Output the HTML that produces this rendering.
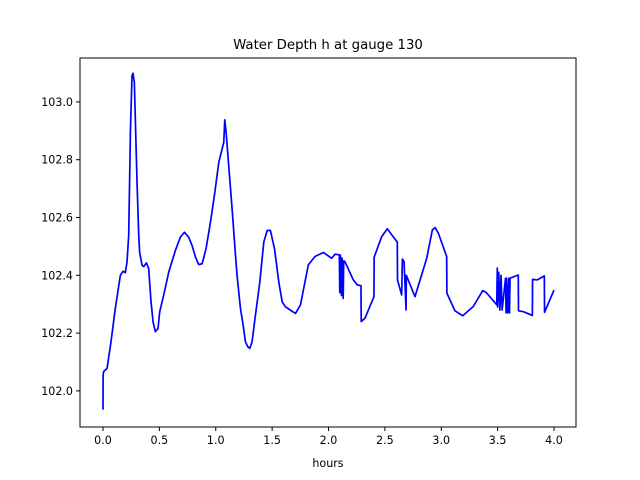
<!DOCTYPE html>
<html><head><meta charset="utf-8"><style>
body{margin:0;background:#fff}
svg{display:block;font-family:"DejaVu Sans","Liberation Sans",sans-serif}
</style></head><body>
<svg id="chart" width="640" height="480" viewBox="0 0 640 480">
<rect width="640" height="480" fill="#fff"/>
<text x="328" y="49" text-anchor="middle" font-size="13.3">Water Depth h at gauge 130</text>
<g id="xticks"></g>
<g id="yticks"></g>
<path id="line" fill="none" stroke="#0000ff" stroke-width="1.7" stroke-linejoin="round"/>
<rect x="80" y="58" width="496" height="369" fill="none" stroke="#000" stroke-width="1"/>
<text x="328" y="467" text-anchor="middle" font-size="11.1">hours</text>
</svg>
<script>
const hours=[0,0.001,0.006,0.036,0.071,0.109,0.154,0.178,0.198,0.213,0.228,0.243,0.257,0.266,0.278,0.29,0.302,0.317,0.325,0.346,0.361,0.385,0.405,0.426,0.444,0.464,0.488,0.503,0.538,0.583,0.642,0.686,0.722,0.76,0.79,0.82,0.849,0.879,0.914,0.953,0.988,1.027,1.056,1.071,1.08,1.092,1.115,1.145,1.175,1.189,1.219,1.243,1.263,1.284,1.302,1.322,1.352,1.391,1.426,1.456,1.485,1.521,1.559,1.589,1.618,1.663,1.707,1.751,1.821,1.88,1.954,2.028,2.058,2.096,2.1,2.105,2.115,2.12,2.13,2.135,2.146,2.22,2.255,2.288,2.29,2.324,2.403,2.405,2.472,2.522,2.561,2.61,2.612,2.649,2.655,2.67,2.688,2.69,2.767,2.871,2.921,2.945,2.974,3.048,3.05,3.122,3.19,3.284,3.368,3.4,3.492,3.497,3.5,3.51,3.52,3.53,3.54,3.57,3.575,3.58,3.59,3.6,3.605,3.61,3.683,3.685,3.728,3.808,3.81,3.852,3.914,3.916,4.0];
const depth=[101.935,102.055,102.067,102.078,102.17,102.285,102.4,102.414,102.409,102.446,102.538,102.894,103.09,103.099,103.067,102.894,102.72,102.538,102.48,102.435,102.43,102.443,102.423,102.308,102.239,102.205,102.216,102.274,102.331,102.411,102.486,102.532,102.549,102.532,102.503,102.463,102.437,102.44,102.492,102.584,102.676,102.791,102.837,102.86,102.938,102.894,102.779,102.63,102.469,102.4,102.285,102.228,102.17,102.153,102.147,102.17,102.262,102.377,102.515,102.555,102.555,102.492,102.377,102.308,102.291,102.279,102.268,102.297,102.436,102.465,102.479,102.459,102.473,102.471,102.34,102.47,102.33,102.46,102.32,102.45,102.447,102.384,102.367,102.364,102.24,102.252,102.326,102.463,102.534,102.561,102.54,102.515,102.384,102.332,102.456,102.447,102.28,102.4,102.326,102.459,102.557,102.565,102.546,102.465,102.338,102.277,102.26,102.292,102.347,102.34,102.298,102.425,102.29,102.41,102.28,102.4,102.28,102.39,102.27,102.39,102.27,102.39,102.27,102.39,102.401,102.277,102.274,102.261,102.386,102.384,102.398,102.272,102.349];
const xTickVals=[0,0.5,1,1.5,2,2.5,3,3.5,4];
const xTickLabels=["0.0","0.5","1.0","1.5","2.0","2.5","3.0","3.5","4.0"];
const yTickVals=[102.0,102.2,102.4,102.6,102.8,103.0];
const yTickLabels=["102.0","102.2","102.4","102.6","102.8","103.0"];
const X0=80,X1=576,Y0=427,Y1=58,xmin=-0.204,xmax=4.195,ymin=101.875,ymax=103.152;
const xs=v=>X0+(v-xmin)/(xmax-xmin)*(X1-X0);
const ys=v=>Y0-(v-ymin)/(ymax-ymin)*(Y0-Y1);
const NS="http://www.w3.org/2000/svg";
let d="";
for(let i=0;i<hours.length;i++)d+=(i?"L":"M")+xs(hours[i]).toFixed(2)+","+ys(depth[i]).toFixed(2);
document.getElementById("line").setAttribute("d",d);
const gx=document.getElementById("xticks"),gy=document.getElementById("yticks");
xTickVals.forEach((v,i)=>{
 const x=xs(v);
 const l=document.createElementNS(NS,"line");
 
 
 l.setAttribute("x1",x);l.setAttribute("x2",x);l.setAttribute("y1",Y0);l.setAttribute("y2",Y0+4);l.setAttribute("stroke","#000");
 gx.appendChild(l);
 const t=document.createElementNS(NS,"text");
 
 
 t.setAttribute("x",x);t.setAttribute("y",Y0+17);t.setAttribute("text-anchor","middle");t.setAttribute("font-size","11.1");
 t.textContent=xTickLabels[i];gx.appendChild(t);
});
yTickVals.forEach((v,i)=>{
 const y=ys(v);
 const l=document.createElementNS(NS,"line");
 
 
 l.setAttribute("x1",X0-4);l.setAttribute("x2",X0);l.setAttribute("y1",y);l.setAttribute("y2",y);l.setAttribute("stroke","#000");
 gy.appendChild(l);
 const t=document.createElementNS(NS,"text");
 
 
 t.setAttribute("x",X0-7);t.setAttribute("y",y+4);t.setAttribute("text-anchor","end");t.setAttribute("font-size","11.1");
 t.textContent=yTickLabels[i];gy.appendChild(t);
});
</script>
</body></html>
